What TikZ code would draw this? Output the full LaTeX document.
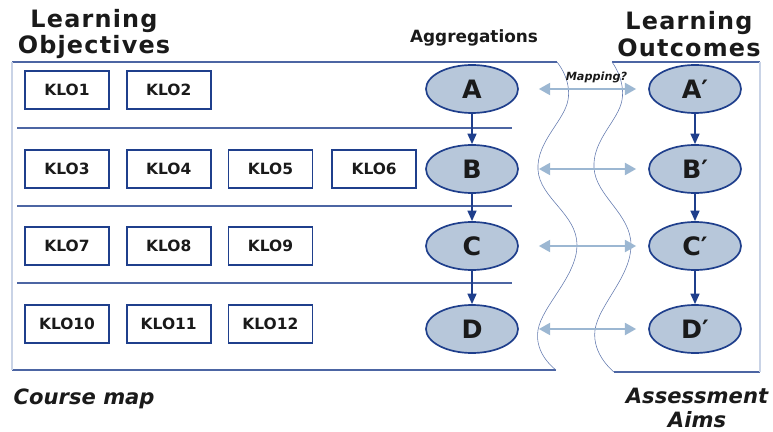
\documentclass[tikz,border=0pt]{standalone}
\usepackage{fontspec}
\setmainfont{DejaVu Sans}
\newfontfamily\spacedfont[LetterSpace=5]{DejaVu Sans}
\usetikzlibrary{arrows.meta, positioning, shapes.geometric}

\definecolor{navy}{HTML}{1F3F8C}
\definecolor{ovalfill}{HTML}{B7C7DA}
\definecolor{mapblue}{HTML}{9CB7D2}
\definecolor{edgelight}{HTML}{C9D3E6}
\definecolor{ink}{HTML}{1A1A1A}

\begin{document}
\begin{tikzpicture}[
        x=0.025cm, y=-0.025cm,
        klo/.style={draw=navy, line width=1.2pt, minimum width=2.1cm, minimum height=0.95cm,
            inner sep=0pt, text=ink, font=\bfseries\fontsize{11}{12}\selectfont},
        agg/.style={ellipse, draw=navy, fill=ovalfill, line width=1.2pt, minimum width=2.3cm,
            minimum height=1.2cm, inner sep=0pt, text=ink, font=\bfseries\fontsize{18}{20}\selectfont},
        title/.style={align=center, text=ink, font=\spacedfont\bfseries\fontsize{17}{19}\selectfont},
        caption/.style={align=center, text=ink, inner sep=1pt, font=\bfseries\itshape\fontsize{15}{17}\selectfont},
        down/.style={navy, line width=1.2pt, -{Triangle[length=2.6mm, width=2.2mm]}},
        map/.style={mapblue, line width=1.4pt, {Triangle[length=2.8mm, width=3mm]}-{Triangle[length=2.8mm, width=3mm]},
            shorten <=0.5cm, shorten >=0.3cm},
        frame/.style={navy!80, line width=0.9pt},
        wave/.style={navy!70, line width=0.4pt}
    ]

    \useasboundingbox (0,0) rectangle (773,432);

    % Headings
    \node[title] (objectives) at (94,34) {Learning\\Objectives};
    \node[title] (outcomes) at (689,34) {Learning\\Outcomes};
    \node[text=ink, font=\bfseries\fontsize{12}{14}\selectfont] (aggregations) at (474,38) {Aggregations};
    \node[caption, anchor=west] (coursemap) at (12,399) {Course map};
    \node[caption] (aims) at (697,408) {Assessment\\Aims};

    % Left panel
    \draw[frame] (12,62) -- (557,62);
    \draw[frame] (12,370) -- (556,370);
    \draw[edgelight, line width=0.8pt] (12,62) -- (12,370);
    \draw[wave] plot[smooth, tension=0.7] coordinates {(557,62) (568,100) (538,170) (577,245) (538,330) (556,370)};
    \draw[frame] (17,128) -- (512,128);
    \draw[frame] (17,206) -- (512,206);
    \draw[frame] (17,283) -- (512,283);

    % Right panel
    \draw[frame] (612,62) -- (760,62);
    \draw[frame] (614,372) -- (760,372);
    \draw[edgelight, line width=0.8pt] (760,62) -- (760,372);
    \draw[wave] plot[smooth, tension=0.7] coordinates {(612,62) (622,100) (594,168) (631,245) (595,330) (614,372)};

    % Objectives
    \node[klo] (klo1) at (67,90) {KLO1};
    \node[klo, right=0.4cm of klo1] (klo2) {KLO2};
    \node[klo] (klo3) at (67,169) {KLO3};
    \node[klo, right=0.4cm of klo3] (klo4) {KLO4};
    \node[klo, right=0.4cm of klo4] (klo5) {KLO5};
    \node[klo, right=0.45cm of klo5] (klo6) {KLO6};
    \node[klo] (klo7) at (67,246) {KLO7};
    \node[klo, right=0.4cm of klo7] (klo8) {KLO8};
    \node[klo, right=0.4cm of klo8] (klo9) {KLO9};
    \node[klo] (klo10) at (67,324) {KLO10};
    \node[klo, right=0.4cm of klo10] (klo11) {KLO11};
    \node[klo, right=0.4cm of klo11] (klo12) {KLO12};

    % Aggregations and outcomes
    \node[agg] (a) at (472,89) {A};
    \node[agg] (b) at (472,169) {B};
    \node[agg] (c) at (472,246) {C};
    \node[agg] (d) at (472,329) {D};
    \node[agg] (a2) at (695,89) {A′};
    \node[agg] (b2) at (695,169) {B′};
    \node[agg] (c2) at (695,246) {C′};
    \node[agg] (d2) at (695,329) {D′};

    % Arrows
    \draw[down] (a) -- (b);
    \draw[down] (b) -- (c);
    \draw[down] (c) -- (d);
    \draw[down] (a2) -- (b2);
    \draw[down] (b2) -- (c2);
    \draw[down] (c2) -- (d2);

    \draw[map] (a) -- node[pos=0.6, above=0pt, text=ink, font=\bfseries\itshape\fontsize{8}{9}\selectfont] {Mapping?} (a2);
    \draw[map] (b) -- (b2);
    \draw[map] (c) -- (c2);
    \draw[map] (d) -- (d2);

\end{tikzpicture}
\end{document}
